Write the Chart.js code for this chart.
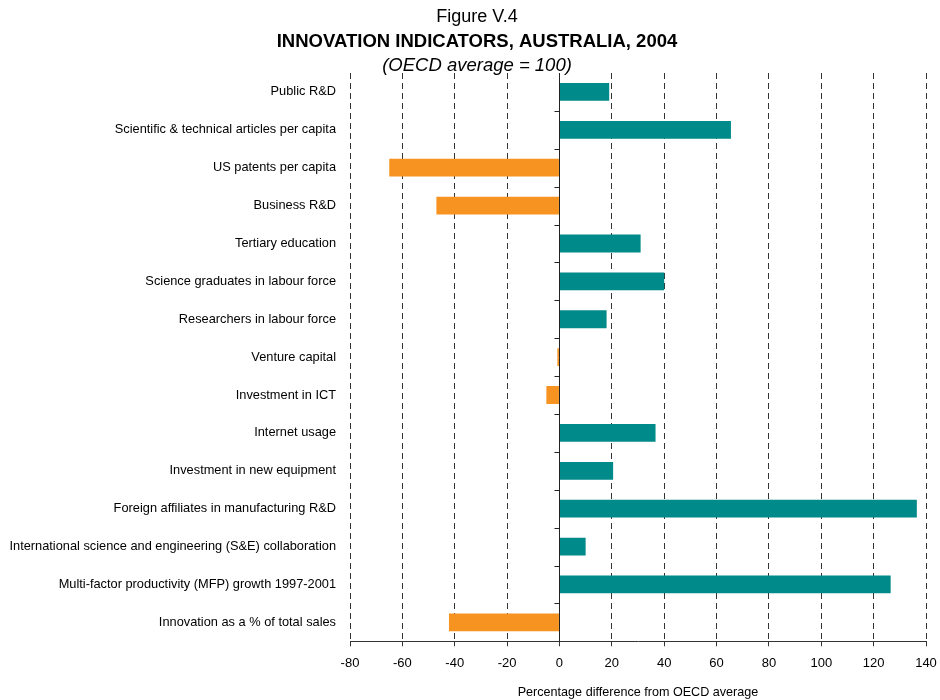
<!DOCTYPE html>
<html>
<head>
<meta charset="utf-8">
<script src="https://cdn.jsdelivr.net/npm/chart.js@4"></script>
<style>
  html, body { margin: 0; padding: 0; background: #fff; }
  #wrap { width: 940px; height: 700px; }
</style>
</head>
<body>
<div id="wrap"><canvas id="innovChart"></canvas></div>
<script>
// indicators, top to bottom
const indicators = [
  "Public R&D",
  "Scientific & technical articles per capita",
  "US patents per capita",
  "Business R&D",
  "Tertiary education",
  "Science graduates in labour force",
  "Researchers in labour force",
  "Venture capital",
  "Investment in ICT",
  "Internet usage",
  "Investment in new equipment",
  "Foreign affiliates in manufacturing R&D",
  "International science and engineering (S&E) collaboration",
  "Multi-factor productivity (MFP) growth 1997-2001",
  "Innovation as a % of total sales"
];
// % difference from OECD average
const pctDiff = [19, 65.5, -65, -47, 31, 40, 18, -0.8, -5, 36.7, 20.5, 136.5, 10, 126.5, -42.2];
const xTicks = [-80, -60, -40, -20, 0, 20, 40, 60, 80, 100, 120, 140];

const TEAL = "#008a89";
const ORANGE = "#f79320";
const FONT = "'Liberation Sans', Arial, sans-serif";

// titles at top of the figure
const headerPlugin = {
  id: "header",
  afterDraw(chart) {
    const c = chart.ctx;
    const cx = 477;
    c.save();
    c.fillStyle = "#000";
    c.textAlign = "center";
    c.textBaseline = "middle";
    c.font = "18px " + FONT;
    c.fillText("Figure V.4", cx, 17);
    c.font = "bold 18.5px " + FONT;
    c.fillText("INNOVATION INDICATORS, AUSTRALIA, 2004", cx, 42);
    c.font = "italic 18.5px " + FONT;
    c.fillText("(OECD average = 100)", cx, 66);
    c.restore();
  }
};

// solid zero line with small ticks between categories
const zeroLinePlugin = {
  id: "zeroLine",
  afterDatasetsDraw(chart) {
    const c = chart.ctx;
    const xs = chart.scales.x, ys = chart.scales.y;
    const x0 = Math.round(xs.getPixelForValue(0)) + 0.5;
    c.save();
    c.strokeStyle = "#222";
    c.lineWidth = 1;
    c.beginPath();
    c.moveTo(x0, chart.chartArea.top);
    c.lineTo(x0, chart.chartArea.bottom);
    const n = indicators.length;
    for (let i = 0; i < n - 1; i++) {
      const y = Math.round((ys.getPixelForValue(i) + ys.getPixelForValue(i + 1)) / 2) + 0.5;
      c.moveTo(x0 - 5, y);
      c.lineTo(x0, y);
    }
    c.stroke();
    c.restore();
  }
};

new Chart(document.getElementById("innovChart"), {
  type: "bar",
  data: {
    labels: indicators,
    datasets: [{
      data: pctDiff,
      backgroundColor: ctx => (ctx.raw < 0 ? ORANGE : TEAL),
      borderWidth: 0,
      categoryPercentage: 1,
      barPercentage: 0.47
    }]
  },
  options: {
    indexAxis: "y",
    responsive: true,
    maintainAspectRatio: false,
    animation: false,
    layout: { padding: { top: 73, left: 6, right: 0, bottom: 0 } },
    plugins: {
      legend: { display: false },
      tooltip: { enabled: false }
    },
    scales: {
      x: {
        min: -80,
        max: 140,
        afterBuildTicks: scale => { scale.ticks = xTicks.map(v => ({ value: v })); },
        afterFit: scale => { scale.paddingRight = 14; },
        grid: {
          color: ctx => (ctx.tick && ctx.tick.value === 0 ? "rgba(0,0,0,0)" : "#333"),
          drawTicks: true,
          tickLength: 5,
          tickColor: "#333",
          tickBorderDash: [],
          lineWidth: 1
        },
        border: { display: true, color: "#333", dash: [6, 4] },
        ticks: { color: "#000", font: { family: FONT, size: 13 }, padding: 9 },
        title: {
          display: true,
          text: "Percentage difference from OECD average",
          color: "#000",
          font: { family: FONT, size: 12.6 },
          padding: { top: 5, bottom: 0 }
        }
      },
      y: {
        afterFit: scale => { scale.width = 344; },
        grid: { display: false, drawTicks: false },
        border: { display: false },
        ticks: { color: "#000", font: { family: FONT, size: 12.8 }, padding: 14 }
      }
    }
  },
  plugins: [headerPlugin, zeroLinePlugin]
});
</script>
</body>
</html>
